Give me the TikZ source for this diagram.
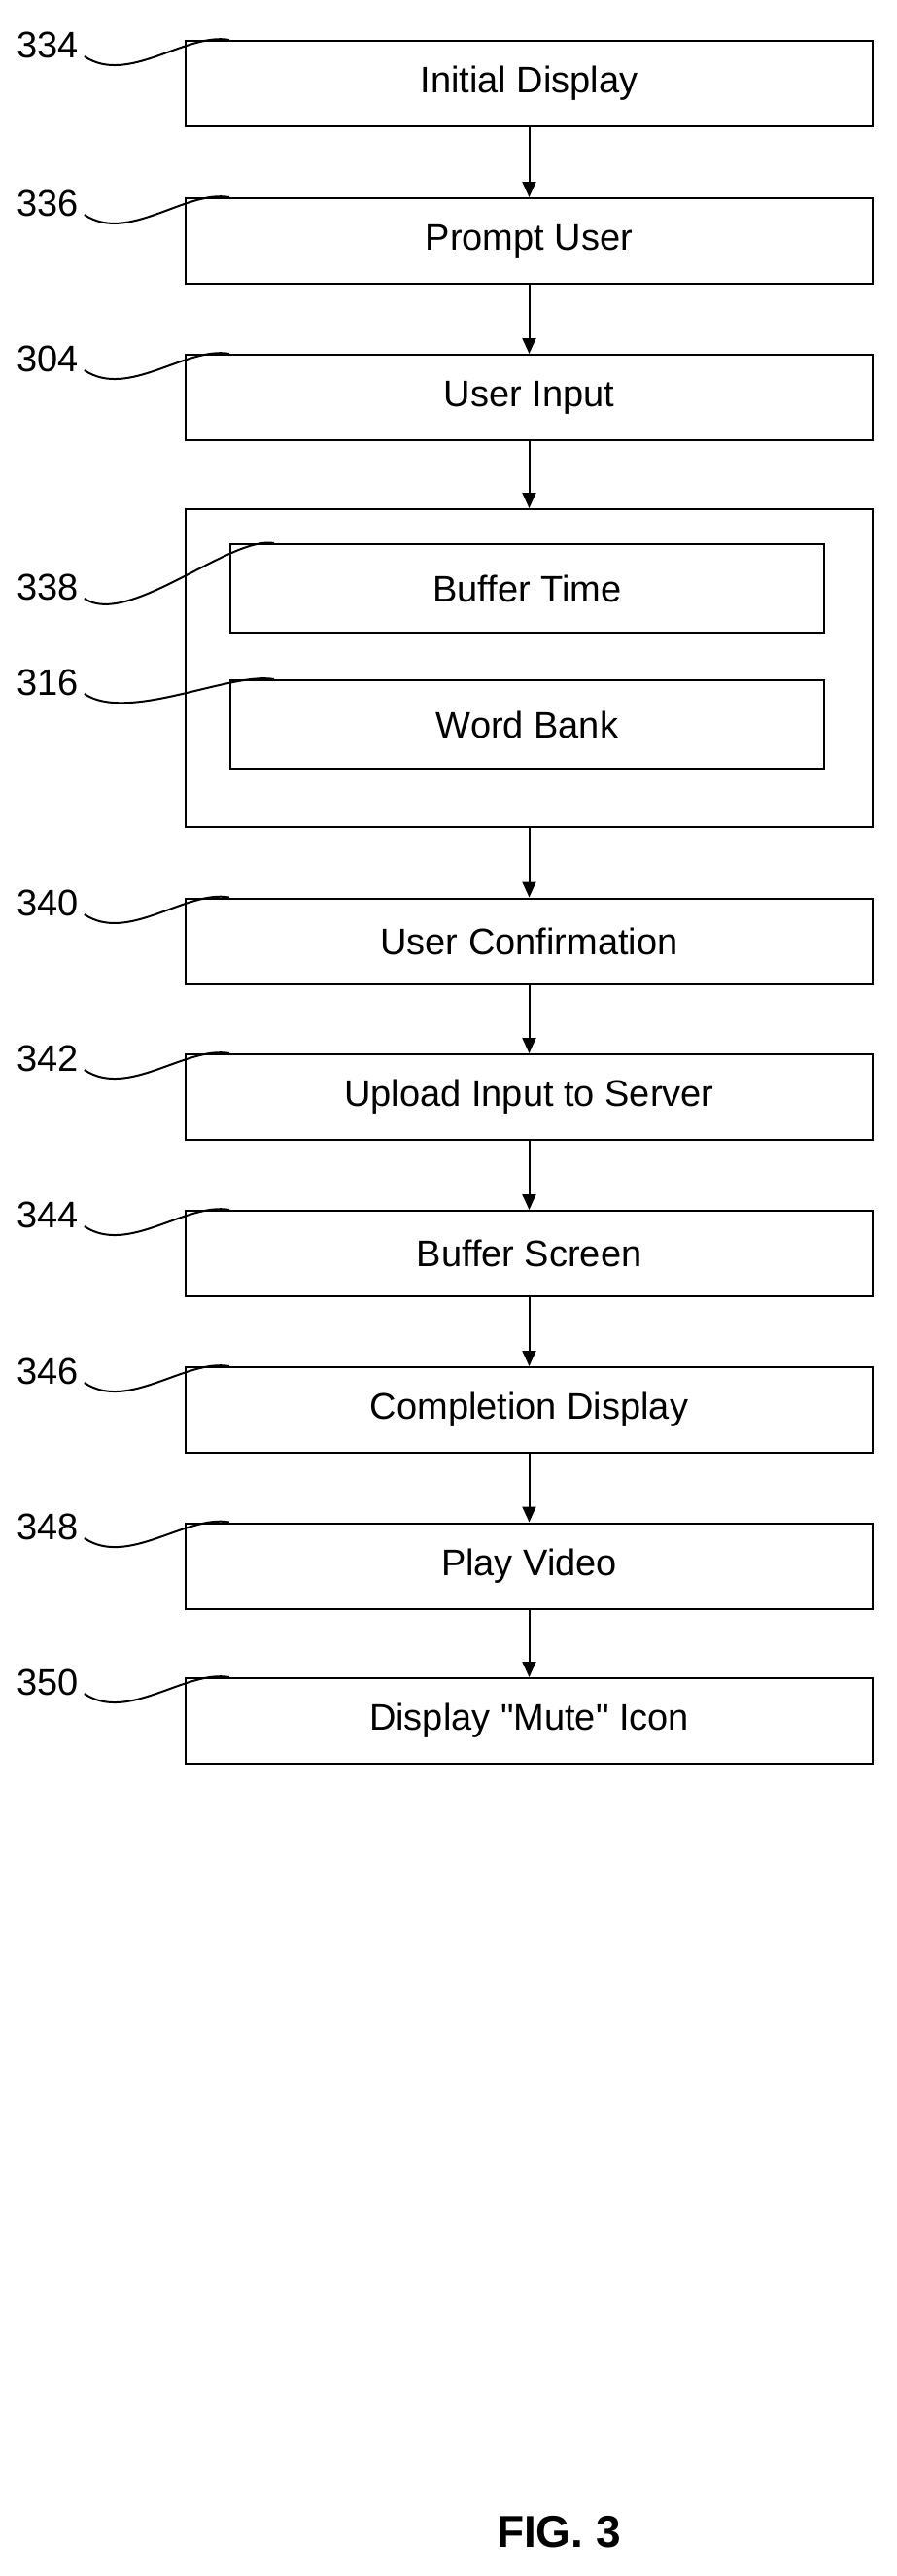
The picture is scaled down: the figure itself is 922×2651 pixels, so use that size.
\documentclass[tikz,border=0pt]{standalone}
\usepackage{fontspec}
\setmainfont{Liberation Sans}
\usepackage{tikz}
\usetikzlibrary{arrows.meta}
\tikzset{
  stepbox/.style={draw,line width=2pt,minimum width=707pt,minimum height=88pt,inner sep=0pt,font=\fontsize{38}{40}\selectfont},
  innerbox/.style={draw,line width=2pt,minimum width=611pt,minimum height=91pt,inner sep=0pt,font=\fontsize{38}{40}\selectfont},
  reflabel/.style={anchor=west,inner sep=0pt,font=\fontsize{38}{40}\selectfont},
  flow/.style={line width=2pt,-{Triangle[length=16pt,width=14pt]}}
}
\newcommand{\dq}{\XeTeXglyph\XeTeXcharglyph"22\relax}
% squiggle from a label to the top edge of its box
\newcommand{\leadline}[2]{%
  \draw[line width=2pt] ([xshift=6pt,yshift=12pt]#1.east) .. controls +(45,30) and +(-45,-8) .. ([xshift=46pt]#2.north west);}
\begin{document}
\begin{tikzpicture}[x=1pt,y=1pt,yscale=-1]
\useasboundingbox (0,0) rectangle (922,2651);
\node[stepbox] (init) at (544.5,86) {Initial Display};
\node[stepbox] (prompt) at (544.5,248) {Prompt User};
\node[stepbox] (input) at (544.5,409) {User Input};
\node[draw,line width=2pt,minimum width=707pt,minimum height=327pt,inner sep=0pt] (group) at (544.5,687.5) {};
\node[innerbox] (buffer) at (542.5,605.5) {Buffer Time};
\node[innerbox] (bank) at (542.5,745.5) {Word Bank};
\node[stepbox] (confirm) at (544.5,968.5) {User Confirmation};
\node[stepbox] (upload) at (544.5,1129) {Upload Input to Server};
\node[stepbox] (screen) at (544.5,1290) {Buffer Screen};
\node[stepbox] (complete) at (544.5,1451) {Completion Display};
\node[stepbox] (video) at (544.5,1611.5) {Play Video};
\node[stepbox] (mute) at (544.5,1771) {Display \dq Mute\dq{} Icon};

\node[reflabel] (l334) at (17,46) {334};
\node[reflabel] (l336) at (17,209) {336};
\node[reflabel] (l304) at (17,369) {304};
\node[reflabel] (l338) at (17,604) {338};
\node[reflabel] (l316) at (17,702) {316};
\node[reflabel] (l340) at (17,929) {340};
\node[reflabel] (l342) at (17,1089) {342};
\node[reflabel] (l344) at (17,1250) {344};
\node[reflabel] (l346) at (17,1411) {346};
\node[reflabel] (l348) at (17,1571) {348};
\node[reflabel] (l350) at (17,1731) {350};

\leadline{l334}{init}
\leadline{l336}{prompt}
\leadline{l304}{input}
\leadline{l338}{buffer}
\leadline{l316}{bank}
\leadline{l340}{confirm}
\leadline{l342}{upload}
\leadline{l344}{screen}
\leadline{l346}{complete}
\leadline{l348}{video}
\leadline{l350}{mute}

\draw[flow] (init) -- (prompt);
\draw[flow] (prompt) -- (input);
\draw[flow] (input) -- (group);
\draw[flow] (group) -- (confirm);
\draw[flow] (confirm) -- (upload);
\draw[flow] (upload) -- (screen);
\draw[flow] (screen) -- (complete);
\draw[flow] (complete) -- (video);
\draw[flow] (video) -- (mute);

\node[font=\bfseries\fontsize{46}{48}\selectfont,inner sep=0pt] (fig) at (575,2606) {FIG. 3};
\end{tikzpicture}
\end{document}
